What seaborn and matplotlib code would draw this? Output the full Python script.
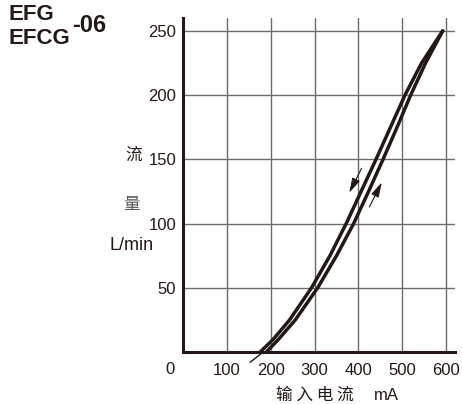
import numpy as np
import pandas as pd
import matplotlib.pyplot as plt
import seaborn as sns

# data
flow = [0, 10, 25, 50, 75, 100, 125, 150, 175, 200, 225, 250]
current_down = [176, 206, 243, 293, 335, 372, 406, 440, 473, 506, 544, 592]
current_up = [190, 218, 256, 307, 350, 389, 423, 456, 488, 519, 553, 592]
tail_current = [183, 153]
tail_flow = [0, -8]

x_ticks = [100, 200, 300, 400, 500, 600]
y_ticks = [50, 100, 150, 200, 250]

ink = '#231815'

sns.set_style('white')
plt.rcParams['font.family'] = ['Liberation Sans', 'Noto Sans CJK SC', 'DejaVu Sans']

df = pd.concat([
    pd.DataFrame({'current': current_down, 'flow': flow, 'dir': 'down'}),
    pd.DataFrame({'current': current_up, 'flow': flow, 'dir': 'up'}),
])

fig = plt.figure(figsize=(4.62, 4.04), dpi=100)
ax = fig.add_axes([183 / 462, 1 - 352 / 404, (455 - 183) / 462, (352 - 18) / 404])

sns.lineplot(data=df, x='current', y='flow', units='dir', estimator=None,
             sort=False, color=ink, linewidth=2.5, ax=ax, clip_on=False)
ax.plot(tail_current, tail_flow, color=ink, linewidth=1.0, clip_on=False)

ax.set_xlim(0, 620)
ax.set_ylim(0, 260)
ax.set_xticks(x_ticks)
ax.set_yticks(y_ticks)
ax.set_xticklabels([str(v) for v in x_ticks], fontsize=12)
ax.set_yticklabels([str(v) for v in y_ticks], fontsize=12)
ax.tick_params(axis='y', length=0, pad=5, colors=ink)
ax.tick_params(axis='x', length=0, pad=8, colors=ink)
ax.grid(True, color='#6e6a69', linewidth=1.0)
ax.set_axisbelow(True)
for s in ['top', 'right']:
    ax.spines[s].set_visible(False)
for s in ['left', 'bottom']:
    ax.spines[s].set_color(ink)
    ax.spines[s].set_linewidth(2.2)
ax.set_xlabel('')
ax.set_ylabel('')

# corner zero
ax.text(-30, -14, '0', fontsize=12, color=ink, ha='center', va='center')

# direction arrows
arrow = dict(arrowstyle='-|>,head_length=0.9,head_width=0.25',
             color=ink, lw=0.8, shrinkA=0, shrinkB=0)
ax.annotate('', xy=(379, 124), xytext=(407, 143), arrowprops=arrow)
ax.annotate('', xy=(453, 132), xytext=(425, 113), arrowprops=arrow)

# axis titles
fig.text(134 / 462, 1 - 155 / 404, '流', fontsize=12, color=ink, ha='center', va='center',
         family=['Noto Sans CJK SC'])
fig.text(132 / 462, 1 - 204 / 404, '量', fontsize=12, color='#555555', ha='center', va='center',
         family=['Noto Sans CJK SC'])
fig.text(132 / 462, 1 - 246 / 404, 'L/min', fontsize=13, color=ink, ha='center', va='center')
fig.text(315 / 462, 1 - 395 / 404, '输 入 电 流', fontsize=12, color=ink, ha='center', va='center',
         family=['Noto Sans CJK SC'])
fig.text(386 / 462, 1 - 395 / 404, 'mA', fontsize=12, color=ink, ha='center', va='center')

# model name
fig.text(8 / 462, 1 - 15 / 404, 'EFG', fontsize=16, fontweight='bold', color=ink, va='center')
fig.text(8 / 462, 1 - 38 / 404, 'EFCG', fontsize=16, fontweight='bold', color=ink, va='center')
fig.text(72 / 462, 1 - 25 / 404, '-06', fontsize=17, fontweight='bold', color=ink, va='center')

plt.savefig('out.png', dpi=100)
